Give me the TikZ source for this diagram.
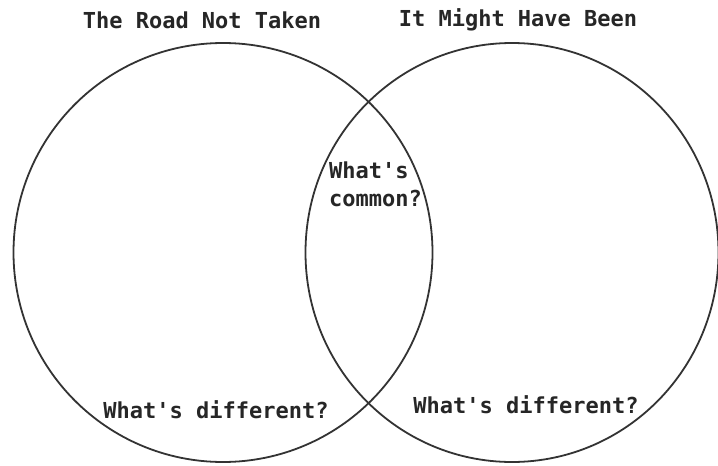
\documentclass[tikz,border=0pt]{standalone}
\usepackage{fontspec}
\newfontfamily\vennmono{DejaVu Sans Mono}
\begin{document}
\begin{tikzpicture}[x=1pt,y=-1pt,
  ring/.style={line width=1.8pt,draw=black!80},
  lbl/.style={font=\vennmono\bfseries\fontsize{22}{28}\selectfont,text=black!85,inner sep=0pt}]
\useasboundingbox (0,0) rectangle (718,466);
\fill[white] (0,0) rectangle (718,466);
\draw[ring] (223,252.5) circle[radius=209.5pt];
\draw[ring] (512,252.5) ellipse[x radius=206.5pt, y radius=209.5pt];
\node[lbl] (t1) at (202,20) {The Road Not Taken};
\node[lbl] (t2) at (518,20) {It Might Have Been};
\node[lbl,align=left,anchor=west] (c) at (329,184) {What's\\common?};
\node[lbl] (d1) at (216,410) {What's different?};
\node[lbl] (d2) at (526,405) {What's different?};
\end{tikzpicture}
\end{document}
